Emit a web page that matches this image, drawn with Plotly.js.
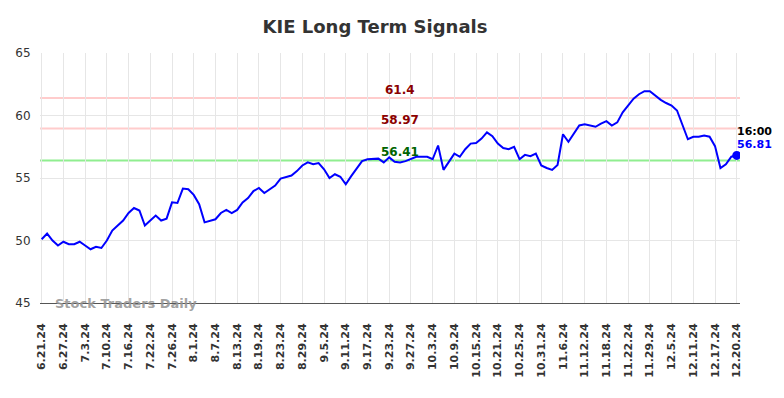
<!DOCTYPE html>
<html>
<head>
<meta charset="utf-8">
<script src="https://cdn.plot.ly/plotly-3.0.1.min.js"></script>
<style>html,body{margin:0;padding:0;background:#fff;}#chart{width:784px;height:398px;}</style>
</head>
<body>
<div id="chart"></div>
<script>
// Daily closes (trading-day index 0..128)
const values = [
  50.1, 50.55, 50.0, 49.6, 49.9, 49.7, 49.7, 49.9, 49.6, 49.3,
  49.5, 49.4, 50.0, 50.8, 51.2, 51.6, 52.2, 52.6, 52.4, 51.2,
  51.6, 52.0, 51.6, 51.75, 53.05, 53.0, 54.15, 54.1, 53.65, 52.9,
  51.45, 51.6, 51.7, 52.2, 52.45, 52.2, 52.45, 53.05, 53.4, 53.95,
  54.2, 53.8, 54.1, 54.4, 54.95, 55.05, 55.2, 55.55, 56.0, 56.25,
  56.1, 56.2, 55.7, 55.0, 55.3, 55.1, 54.5, 55.15, 55.75, 56.35,
  56.5, 56.5, 56.55, 56.25, 56.65, 56.3, 56.25, 56.35, 56.5, 56.7,
  56.7, 56.7, 56.5, 57.6, 55.65, 56.25, 56.95, 56.7, 57.3, 57.75,
  57.8, 58.15, 58.65, 58.35, 57.75, 57.4, 57.3, 57.5, 56.5, 56.85,
  56.75, 56.95, 56.0, 55.8, 55.65, 56.05, 58.5, 57.9, 58.55, 59.2,
  59.3, 59.2, 59.1, 59.35, 59.55, 59.2, 59.45, 60.25, 60.85, 61.35,
  61.7, 61.95, 61.95, 61.6, 61.25, 61.0, 60.8, 60.4, 59.2, 58.1,
  58.3, 58.3, 58.4, 58.3, 57.55, 55.8, 56.1, 56.7, 56.81
];
const tickLabels = [
  "6.21.24","6.27.24","7.3.24","7.10.24","7.16.24","7.22.24","7.26.24","8.1.24",
  "8.7.24","8.13.24","8.19.24","8.23.24","8.29.24","9.5.24","9.11.24","9.17.24",
  "9.23.24","9.27.24","10.3.24","10.9.24","10.15.24","10.21.24","10.25.24","10.31.24",
  "11.6.24","11.12.24","11.18.24","11.22.24","11.29.24","12.5.24","12.11.24","12.17.24",
  "12.20.24"
];
const tickEvery = 4;
const resistanceLevels = [61.4, 58.97];
const supportLevels = [56.41];
const lastTime = "16:00";
const chartTitle = "KIE Long Term Signals";
const watermark = "Stock Traders Daily";

const xs = values.map((_, i) => i);
const tickVals = tickLabels.map((_, i) => i * tickEvery);
const lastX = xs[xs.length - 1];
const lastY = values[values.length - 1];

const FONT = "DejaVu Sans";
const shapes = [];
const annotations = [];
resistanceLevels.forEach(v => {
  shapes.push({type:'line', xref:'paper', x0:0, x1:1, yref:'y', y0:v, y1:v,
    line:{color:'#ffcccc', width:2}, layer:'below'});
  annotations.push({x:66, y:v, xref:'x', yref:'y', text:String(v), showarrow:false,
    yanchor:'middle', yshift:8, font:{family:FONT, size:12, color:'#8b0000', weight:'bold'}});
});
supportLevels.forEach(v => {
  shapes.push({type:'line', xref:'paper', x0:0, x1:1, yref:'y', y0:v, y1:v,
    line:{color:'#90ee90', width:2}, layer:'below'});
  annotations.push({x:66, y:v, xref:'x', yref:'y', text:String(v), showarrow:false,
    yanchor:'middle', yshift:8, font:{family:FONT, size:12, color:'#006400', weight:'bold'}});
});
annotations.push({x:lastX, y:lastY, xref:'x', yref:'y', text:lastTime, showarrow:false,
  xanchor:'left', yanchor:'middle', xshift:-2, yshift:24,
  font:{family:FONT, size:11, color:'#000000', weight:'bold'}});
annotations.push({x:lastX, y:lastY, xref:'x', yref:'y', text:String(lastY), showarrow:false,
  xanchor:'left', yanchor:'middle', xshift:-2, yshift:11,
  font:{family:FONT, size:11, color:'#0000ff', weight:'bold'}});
annotations.push({x:13/700, y:0, xref:'paper', yref:'paper', text:watermark, showarrow:false,
  xanchor:'left', yanchor:'middle',
  font:{family:FONT, size:13, color:'rgba(150,150,150,0.9)', weight:'bold'}});

const traces = [
  {x:xs, y:values, type:'scatter', mode:'lines', line:{color:'#0000ff', width:2}, hoverinfo:'skip'},
  {x:[lastX], y:[lastY], type:'scatter', mode:'markers', marker:{color:'#0000ff', size:9}, hoverinfo:'skip'}
];

const layout = {
  width:784, height:398,
  margin:{l:40, r:44, t:53, b:95},
  paper_bgcolor:'#ffffff', plot_bgcolor:'#ffffff',
  showlegend:false,
  title:{text:chartTitle, x:375/784, xanchor:'center', xref:'container', y:1-27/398, yanchor:'middle', yref:'container',
    font:{family:FONT, size:18, color:'#333333', weight:'bold'}},
  xaxis:{type:'linear', range:[-0.31, 128.6], tickmode:'array', tickvals:tickVals, ticktext:tickLabels,
    tickangle:-90, ticks:'outside', ticklen:15, tickcolor:'rgba(0,0,0,0)',
    tickfont:{family:FONT, size:11, color:'#333333', weight:'bold'},
    showgrid:true, gridcolor:'#e6e6e6', gridwidth:1, zeroline:false,
    showline:true, linecolor:'#555555', linewidth:1},
  yaxis:{range:[45,65], tickmode:'linear', tick0:45, dtick:5,
    ticks:'outside', ticklen:6, tickcolor:'rgba(0,0,0,0)',
    tickfont:{family:FONT, size:12, color:'#333333'},
    showgrid:true, gridcolor:'#e6e6e6', gridwidth:1, zeroline:false, showline:false},
  shapes:shapes,
  annotations:annotations
};
Plotly.newPlot('chart', traces, layout, {staticPlot:true, displayModeBar:false});
</script>
</body>
</html>
